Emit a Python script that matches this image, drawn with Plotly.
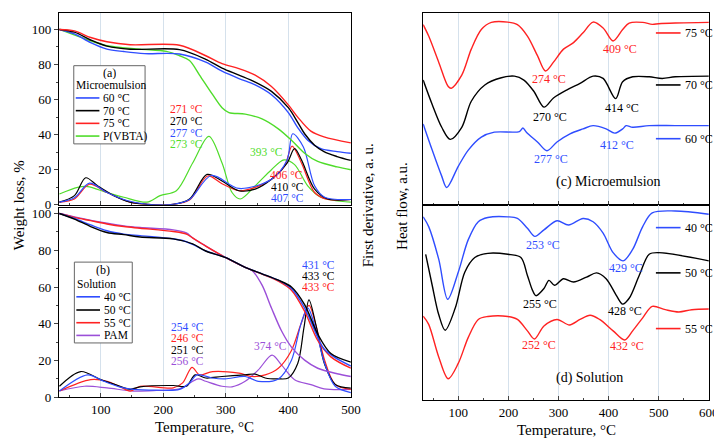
import plotly.graph_objects as go

W, H = 722, 439

# ---------------- colours ----------------
C_BLUE = "#2f4dff"
C_BLACK = "#000000"
C_RED = "#ff2222"
C_GREEN = "#4fdc2a"
C_PURPLE = "#9b4fd8"
C_GRID = "#d5e1ec"

# ---------------- ticks ----------------
left_x_ticks = [100, 200, 300, 400, 500]
left_y_ticks = [0, 20, 40, 60, 80, 100]
right_x_ticks = [100, 200, 300, 400, 500, 600]

# ================= panel (a) Microemulsion: TGA =================
a_tga_60_T = [34, 58, 84, 110, 137, 170, 226, 268, 294, 321, 347, 373, 400, 415, 431, 452, 478, 500]
a_tga_60_W = [100, 97.5, 92.5, 88.8, 87.4, 86.2, 86, 81.4, 76.2, 72, 68.4, 62.8, 52.6, 44, 36.8, 32, 30.3, 29.4]
a_tga_70_T = [34, 58, 84, 110, 147, 226, 268, 294, 321, 347, 373, 400, 415, 426, 442, 457, 478, 500]
a_tga_70_W = [100, 98.5, 94, 90.5, 88.7, 88.5, 83, 78, 74, 70, 64.7, 55.4, 47, 40.5, 34, 30.3, 27.5, 25.3]
a_tga_75_T = [34, 58, 84, 110, 147, 226, 268, 294, 321, 347, 373, 400, 415, 436, 457, 500]
a_tga_75_W = [100, 99.2, 95.4, 93, 91.3, 91, 85, 80.5, 77.7, 74, 67.5, 57, 50, 42, 38.7, 35.3]
a_tga_pv_T = [34, 84, 110, 163, 205, 226, 242, 258, 279, 294, 305, 331, 358, 384, 405, 426, 447, 478, 500]
a_tga_pv_W = [100, 93.5, 90.7, 88.8, 87.5, 85, 82.3, 74, 62.8, 55.4, 52.6, 51.7, 49, 43.3, 36.8, 29.4, 24.7, 21.6, 20]

# ================= panel (a) Microemulsion: DTG =================
a_dtg_60_T = [34, 58, 82, 110, 142, 174, 216, 242, 277, 321, 373, 398, 407, 424, 442, 458, 500]
a_dtg_60_V = [1.5, 4, 12.3, 7, 2.4, 0.3, 0.3, 3, 16.7, 9.3, 14.5, 25.6, 40.5, 33, 10.8, 4.3, 3]
a_dtg_70_T = [34, 58, 76, 95, 121, 147, 174, 216, 242, 270, 294, 321, 347, 373, 398, 410, 421, 442, 463, 500]
a_dtg_70_V = [1.5, 5.2, 15.4, 10.8, 5.2, 1.5, 0.2, 0.2, 3.3, 17.3, 13.6, 8, 8.9, 14.5, 23.8, 32, 25.6, 8.9, 3.3, 3]
a_dtg_75_T = [34, 58, 82, 110, 147, 174, 216, 242, 271, 294, 321, 347, 373, 394, 406, 421, 442, 463, 500]
a_dtg_75_V = [1.5, 3.3, 11.7, 7, 1.5, 0.3, 0.3, 2.7, 16.4, 12, 8, 9.9, 14.5, 22, 33.5, 23.8, 7, 3, 3]
a_dtg_pv_T = [34, 63, 79, 110, 137, 174, 195, 221, 247, 273, 294, 310, 323, 347, 373, 393, 410, 431, 452, 500]
a_dtg_pv_V = [6.1, 9.9, 10.4, 7, 4.3, 1.5, 5.2, 8, 23.8, 39, 23.8, 7, 3.3, 10.8, 20, 25.6, 22.9, 10.8, 4.3, 1.5]

# ================= panel (b) Solution: TGA =================
b_tga_40_T = [34, 58, 84, 110, 137, 163, 216, 231, 247, 268, 300, 331, 358, 384, 405, 426, 447, 457, 473, 500]
b_tga_40_W = [100, 97.3, 93.8, 90.6, 88.8, 88, 86.3, 85.3, 83.2, 79.6, 76, 70.7, 67.2, 63.7, 59.2, 48.6, 32.6, 26.4, 22, 17]
b_tga_50_T = [34, 58, 84, 110, 137, 163, 216, 247, 268, 300, 331, 358, 384, 405, 426, 447, 468, 500]
b_tga_50_W = [100, 97, 92.9, 89.7, 88.5, 87.2, 86.2, 83.5, 79.6, 76, 70.7, 67.2, 63.7, 60, 50.4, 34.4, 23.8, 19.1]
b_tga_55_T = [34, 58, 84, 110, 137, 163, 216, 237, 247, 268, 300, 331, 358, 384, 405, 426, 447, 468, 500]
b_tga_55_W = [100, 97.9, 96.1, 94.3, 92.9, 92, 90.2, 88.8, 86.7, 82.3, 76, 70.7, 67, 63.2, 58.3, 46.8, 30.9, 22, 15.8]
b_tga_pam_T = [34, 58, 110, 137, 163, 216, 237, 247, 268, 300, 331, 342, 358, 373, 389, 405, 426, 447, 478, 500]
b_tga_pam_W = [100, 98.2, 94.7, 93.3, 92.4, 91.1, 89.4, 86.7, 82.3, 76, 70.7, 69, 61, 48.6, 36.2, 27.3, 20.2, 15.8, 12.8, 11.3]

# ================= panel (b) Solution: DTG =================
b_dtg_40_T = [34, 79, 105, 131, 152, 189, 226, 242, 254, 278, 299, 331, 352, 384, 405, 420, 431, 443, 458, 475, 500]
b_dtg_40_V = [3.4, 12.2, 8.7, 5.5, 4.3, 3.9, 4.3, 7.8, 12.2, 10.5, 10, 11.3, 8.7, 10, 20.2, 39.7, 48.6, 38, 18.4, 6, 2.5]
b_dtg_50_T = [34, 68, 100, 131, 147, 163, 216, 237, 251, 268, 294, 331, 347, 363, 384, 400, 415, 425, 433, 445, 458, 475, 500]
b_dtg_50_V = [6, 14, 9.6, 6, 4.3, 5.7, 6.4, 6, 12.2, 10.5, 11.3, 12.2, 12.6, 10.5, 10, 10.5, 18.4, 38, 53, 38, 18, 7, 5]
b_dtg_55_T = [34, 84, 110, 131, 147, 163, 216, 231, 246, 258, 279, 321, 342, 363, 384, 405, 420, 433, 445, 458, 475, 500]
b_dtg_55_V = [3.4, 9.6, 8.7, 5.7, 3.4, 6, 5.1, 7.8, 16.3, 12.2, 14, 13.1, 11.3, 12.2, 15.8, 25.5, 39.7, 50, 38, 20.2, 6.9, 4.3]
b_dtg_pam_T = [34, 74, 110, 152, 189, 226, 256, 268, 294, 310, 331, 352, 374, 389, 410, 436, 457, 500]
b_dtg_pam_V = [3.4, 6, 5.1, 3.4, 3.7, 4.6, 10, 8.7, 6, 5.7, 8.7, 14.9, 22.9, 17.6, 9.6, 6.9, 4.6, 4.3]

# ================= panel (c) Microemulsion: heat flow (a.u.) =================
c_75_T = [30, 41, 61, 80, 86, 107, 126, 146, 166, 199, 218, 238, 258, 274, 290, 310, 330, 349, 369, 389, 409, 428, 441, 468, 487, 500, 533, 600]
c_75_V = [555, 520, 440, 365, 360, 400, 480, 540, 562, 563, 555, 520, 460, 413, 440, 480, 500, 530, 563, 545, 505, 540, 560, 562, 556, 558, 560, 562]
c_70_T = [30, 48, 67, 84, 107, 126, 153, 186, 212, 231, 251, 271, 290, 317, 343, 369, 389, 414, 428, 448, 481, 507, 533, 600]
c_70_V = [385, 310, 240, 203, 240, 320, 370, 392, 397, 385, 350, 302, 330, 355, 375, 397, 390, 328, 380, 395, 395, 390, 395, 397]
c_60_T = [30, 48, 67, 77, 100, 120, 146, 172, 222, 229, 236, 258, 277, 297, 323, 349, 369, 395, 412, 428, 435, 448, 481, 533, 600]
c_60_V = [250, 170, 90, 55, 120, 170, 210, 225, 227, 238, 225, 195, 168, 195, 220, 235, 245, 235, 222, 235, 245, 240, 245, 245, 245]

# ================= panel (d) Solution: heat flow (a.u.) =================
d_40_T = [30, 41, 61, 79, 100, 120, 140, 159, 199, 218, 238, 253, 271, 297, 320, 349, 369, 389, 409, 429, 448, 468, 487, 533, 600]
d_40_V = [562, 532, 432, 309, 392, 492, 547, 560, 562, 557, 527, 502, 522, 550, 537, 557, 547, 512, 452, 427, 462, 532, 574, 580, 570]
d_50_T = [35, 48, 61, 74, 94, 113, 133, 159, 199, 225, 238, 248, 255, 271, 281, 292, 310, 330, 356, 376, 395, 415, 428, 441, 461, 481, 500, 600]
d_50_V = [447, 352, 262, 214, 282, 392, 437, 450, 447, 437, 382, 337, 320, 342, 367, 352, 372, 362, 377, 390, 372, 322, 294, 312, 382, 447, 452, 427]
d_55_T = [30, 41, 61, 80, 100, 120, 140, 159, 199, 218, 238, 252, 271, 297, 322, 343, 363, 382, 409, 432, 448, 468, 487, 513, 540, 566, 600]
d_55_V = [257, 232, 132, 65, 112, 192, 247, 256, 256, 247, 212, 187, 227, 247, 230, 247, 260, 247, 212, 184, 212, 252, 287, 277, 270, 277, 279]

# ---------------- labels ----------------
leg_a_title = ["(a)", "Microemulsion"]
leg_a_labels = ["60 °C", "70 °C", "75 °C", "P(VBTA)"]
leg_a_colors = [C_BLUE, C_BLACK, C_RED, C_GREEN]
leg_b_title = ["(b)", "Solution"]
leg_b_labels = ["40 °C", "50 °C", "55 °C", "PAM"]
leg_b_colors = [C_BLUE, C_BLACK, C_RED, C_PURPLE]
leg_c_labels = ["75 °C", "70 °C", "60 °C"]
leg_c_colors = [C_RED, C_BLACK, C_BLUE]
leg_d_labels = ["40 °C", "50 °C", "55 °C"]
leg_d_colors = [C_BLUE, C_BLACK, C_RED]

# peak annotations: (text, T, value, colour)
a_peaks = [("271 °C", 237, 54.5, C_RED), ("270 °C", 237, 47.5, C_BLACK), ("277 °C", 237, 40.9, C_BLUE),
           ("273 °C", 237, 34.4, C_GREEN), ("393 °C", 365, 29.9, C_GREEN), ("406 °C", 397, 16.8, C_RED),
           ("410 °C", 398, 10.3, C_BLACK), ("407 °C", 398, 3.9, C_BLUE)]
b_peaks = [("431 °C", 449, 72.2, C_BLUE), ("433 °C", 449, 66.2, C_BLACK), ("433 °C", 449, 60.1, C_RED),
           ("254 °C", 238, 38.3, C_BLUE), ("246 °C", 238, 32, C_RED), ("251 °C", 238, 25.8, C_BLACK),
           ("256 °C", 238, 19.7, C_PURPLE), ("374 °C", 371, 27.8, C_PURPLE)]
c_peaks = [("409 °C", 423, 480, C_RED), ("274 °C", 282, 388, C_RED), ("270 °C", 284, 272, C_BLACK),
           ("414 °C", 426, 300, C_BLACK), ("412 °C", 417, 185, C_BLUE), ("277 °C", 286, 143, C_BLUE)]
d_peaks = [("253 °C", 269, 477, C_BLUE), ("429 °C", 435, 404, C_BLUE), ("255 °C", 264, 294, C_BLACK),
           ("428 °C", 433, 274, C_BLACK), ("252 °C", 262, 169, C_RED), ("432 °C", 437, 164, C_RED)]

FONT = "Liberation Serif, Times New Roman, serif"

fig = go.Figure()


def add(x, y, color, xa, ya, width=1.4):
    fig.add_trace(go.Scatter(x=x, y=y, mode="lines", xaxis=xa, yaxis=ya, showlegend=False,
                             line=dict(color=color, width=width, shape="spline", smoothing=0.9),
                             hoverinfo="skip"))


# panel a
add(a_dtg_pv_T, a_dtg_pv_V, C_GREEN, "x", "y", 1.2)
add(a_dtg_75_T, a_dtg_75_V, C_RED, "x", "y", 1.2)
add(a_dtg_70_T, a_dtg_70_V, C_BLACK, "x", "y", 1.2)
add(a_dtg_60_T, a_dtg_60_V, C_BLUE, "x", "y", 1.2)
add(a_tga_pv_T, a_tga_pv_W, C_GREEN, "x", "y")
add(a_tga_60_T, a_tga_60_W, C_BLUE, "x", "y")
add(a_tga_70_T, a_tga_70_W, C_BLACK, "x", "y")
add(a_tga_75_T, a_tga_75_W, C_RED, "x", "y")
# panel b
add(b_dtg_pam_T, b_dtg_pam_V, C_PURPLE, "x2", "y2", 1.2)
add(b_dtg_55_T, b_dtg_55_V, C_RED, "x2", "y2", 1.2)
add(b_dtg_50_T, b_dtg_50_V, C_BLACK, "x2", "y2", 1.2)
add(b_dtg_40_T, b_dtg_40_V, C_BLUE, "x2", "y2", 1.2)
add(b_tga_pam_T, b_tga_pam_W, C_PURPLE, "x2", "y2")
add(b_tga_55_T, b_tga_55_W, C_RED, "x2", "y2")
add(b_tga_40_T, b_tga_40_W, C_BLUE, "x2", "y2")
add(b_tga_50_T, b_tga_50_W, C_BLACK, "x2", "y2")
# panel c
add(c_75_T, c_75_V, C_RED, "x3", "y3")
add(c_70_T, c_70_V, C_BLACK, "x3", "y3")
add(c_60_T, c_60_V, C_BLUE, "x3", "y3")
# panel d
add(d_40_T, d_40_V, C_BLUE, "x4", "y4")
add(d_50_T, d_50_V, C_BLACK, "x4", "y4")
add(d_55_T, d_55_V, C_RED, "x4", "y4")


def px(x):
    return x / W


def py(y):
    return 1 - y / H


ax_common = dict(showline=True, linecolor="black", linewidth=1.3, mirror=True, zeroline=False,
                 tickfont=dict(family=FONT, size=13, color="black"))

xl = dict(ax_common, range=[33.3, 500], tickvals=left_x_ticks, ticks="inside", ticklen=4,
          showgrid=True, gridcolor=C_GRID, gridwidth=1,
          minor=dict(dtick=50, tick0=0, ticks="inside", ticklen=2, showgrid=False))
yl = dict(ax_common, tickvals=left_y_ticks, ticks="outside", ticklen=4, showgrid=False,
          minor=dict(dtick=10, tick0=0, ticks="outside", ticklen=2))
xr = dict(ax_common, range=[30, 600], tickvals=right_x_ticks, ticks="inside", ticklen=4,
          showgrid=True, gridcolor=C_GRID, gridwidth=1,
          minor=dict(dtick=50, tick0=0, ticks="inside", ticklen=2, showgrid=False))
yr = dict(ax_common, showticklabels=False, ticks="", showgrid=False)

fig.update_layout(
    width=W, height=H, margin=dict(l=0, r=0, t=0, b=0),
    paper_bgcolor="white", plot_bgcolor="white",
    font=dict(family=FONT, size=13, color="black"),
    xaxis=dict(xl, domain=[px(51.7), px(347.7)], anchor="y", showticklabels=False),
    yaxis=dict(yl, domain=[py(199.3), py(2.7)], anchor="x", range=[0, 109.6]),
    xaxis2=dict(xl, domain=[px(51.7), px(347.7)], anchor="y2"),
    yaxis2=dict(yl, domain=[py(396.3), py(203)], anchor="x2", range=[0, 102.8]),
    xaxis3=dict(xr, domain=[px(421), px(710.7)], anchor="y3", showticklabels=False),
    yaxis3=dict(yr, domain=[py(200), py(2.7)], anchor="x3", range=[0, 592]),
    xaxis4=dict(xr, domain=[px(421), px(710.7)], anchor="y4"),
    yaxis4=dict(yr, domain=[py(399), py(200)], anchor="x4", range=[0, 597]),
)

ann = []
shapes = []


def text(x, y, s, size=13, color="black", xanchor="center", angle=0, xref="paper", yref="paper", tight=False):
    d = dict(x=x, y=y, xref=xref, yref=yref, text=s, showarrow=False, textangle=angle,
             xanchor=xanchor, yanchor="middle", font=dict(family=FONT, size=size, color=color))
    if tight:
        d.update(height=12, borderpad=0)
    ann.append(d)


# axis titles
text(px(12), py(200), "Weight loss, %", size=15, angle=-90)
text(px(366), py(200), "First derivative, a. u.", size=15, angle=-90)
text(px(400), py(200), "Heat flow, a.u.", size=15, angle=-90)
text(px(199.7), py(427), "Temperature, °C", size=15)
text(px(566), py(430), "Temperature, °C", size=15)

# peak labels
for s, t, v, c in a_peaks:
    text(t, v, s, size=11.5, color=c, xref="x", yref="y", tight=True)
for s, t, v, c in b_peaks:
    text(t, v, s, size=11.5, color=c, xref="x2", yref="y2", tight=True)
for s, t, v, c in c_peaks:
    text(t, v, s, size=12, color=c, xref="x3", yref="y3")
for s, t, v, c in d_peaks:
    text(t, v, s, size=12, color=c, xref="x4", yref="y4")
text(399, 73, "(c) Microemulsion", size=14, xref="x3", yref="y3")
text(362, 67, "(d) Solution", size=14, xref="x4", yref="y4")


# boxed legends for (a) and (b)
def boxed_legend(x0, x1, y0, y1, title, labels, colors, ys):
    shapes.append(dict(type="rect", xref="paper", yref="paper", x0=px(x0), x1=px(x1), y0=py(y1), y1=py(y0),
                       line=dict(color="#666666", width=1), fillcolor="white", layer="above"))
    text(px((x0 + x1) / 2), py(ys[0]), title[0], size=12, tight=True)
    text(px(x0 + 1.5), py(ys[1]), title[1], size=11.5, xanchor="left", tight=True)
    for lab, col, yy in zip(labels, colors, ys[2:]):
        shapes.append(dict(type="line", xref="paper", yref="paper", x0=px(x0 + 2), x1=px(x0 + 26),
                           y0=py(yy), y1=py(yy), line=dict(color=col, width=1.6), layer="above"))
        text(px(x0 + 29), py(yy), lab, size=11.5, xanchor="left", tight=True)


boxed_legend(66.7, 139, 57, 137, leg_a_title, leg_a_labels, leg_a_colors, [64, 77, 90, 103, 116, 129])
boxed_legend(67.3, 126, 258, 340.7, leg_b_title, leg_b_labels, leg_b_colors, [266, 280, 293.5, 307, 320, 333])


# side legends for (c) and (d)
def side_legend(labels, colors, ys):
    for lab, col, yy in zip(labels, colors, ys):
        shapes.append(dict(type="line", xref="paper", yref="paper", x0=px(657), x1=px(682),
                           y0=py(yy), y1=py(yy), line=dict(color=col, width=1.6)))
        text(px(684), py(yy), lab, size=12, xanchor="left")


side_legend(leg_c_labels, leg_c_colors, [23.5, 76.7, 131.7])
side_legend(leg_d_labels, leg_d_colors, [222.7, 269, 326])

fig.update_layout(annotations=ann, shapes=shapes)
fig.write_html("out.html")
